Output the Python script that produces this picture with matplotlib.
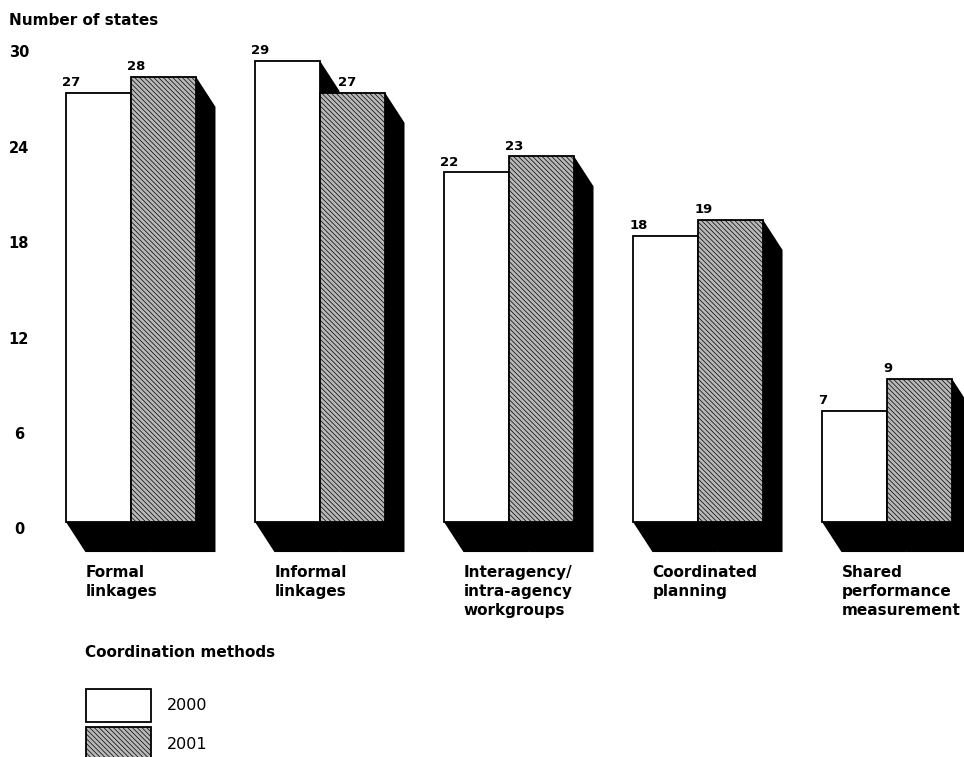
import matplotlib
matplotlib.use("Agg")
import matplotlib.pyplot as plt
import numpy as np
from matplotlib.patches import Rectangle

plt.rcParams['font.family'] = ['DejaVu Sans']
plt.rcParams['hatch.linewidth'] = 0.5
plt.rcParams['hatch.color'] = '#3c3c3c'

# Data
categories = ['Formal\nlinkages', 'Informal\nlinkages',
              'Interagency/\nintra-agency\nworkgroups',
              'Coordinated\nplanning',
              'Shared\nperformance\nmeasurement']
years = ['2000', '2001']
states_2000 = [27, 29, 22, 18, 7]
states_2001 = [28, 27, 23, 19, 9]
yticks = [0, 6, 12, 18, 24, 30]

# Layout (group spacing = 1 in x)
bar_w = 0.344          # width of each front face
dx, dy = 0.103, 1.89   # depth of the black extrusion
gray_face = '#b8b8b8'
stipple = '\\\\\\\\\\\\\\'

fig = plt.figure(figsize=(9.64, 7.57), dpi=100)
ax = fig.add_axes([0, 0, 1, 1])
ax.set_xlim(-0.349, 4.751)
ax.set_ylim(-14.78, 32.83)
ax.axis('off')

x = np.arange(len(categories))
x_2000 = x
x_2001 = x + bar_w


def extrusion(x0, top):
    # black side + bottom faces behind a bar
    x1 = x0 + bar_w
    px = [x0, x0, x1, x1 + dx, x1 + dx, x0 + dx]
    py = [0, top, top, top - dy, -dy, -dy]
    ax.fill(px, py, color='black', lw=0, zorder=1)


for i in range(len(categories)):
    extrusion(x_2000[i], states_2000[i])
    extrusion(x_2001[i], states_2001[i])

ax.bar(x_2000, states_2000, width=bar_w, align='edge', color='white',
       edgecolor='black', linewidth=1.3, zorder=2)
ax.bar(x_2001, states_2001, width=bar_w, align='edge', color=gray_face,
       edgecolor='black', linewidth=1.3, hatch=stipple, zorder=2)

# value labels (2001 label moves past the shadow when 2000 is taller)
for i in range(len(categories)):
    ax.text(x_2000[i] - 0.02, states_2000[i] + 0.42, str(states_2000[i]),
            ha='left', va='baseline', fontsize=9.5, fontweight='bold',
            zorder=3)
    shift = dx - 0.01 if states_2000[i] > states_2001[i] else -0.02
    ax.text(x_2001[i] + shift, states_2001[i] + 0.42, str(states_2001[i]),
            ha='left', va='baseline', fontsize=9.5, fontweight='bold',
            zorder=3)

# category labels under the bars
for xi, lab in zip(x, categories):
    ax.text(xi + dx, -2.7, lab, ha='left', va='top', fontsize=11,
            fontweight='bold', linespacing=1.35)

# y tick labels and axis title
for t in yticks:
    ax.text(-0.249, t - 0.5, str(t), ha='center', va='center',
            fontsize=10.5, fontweight='bold')
ax.text(-0.302, 31.57, 'Number of states', ha='left', va='center',
        fontsize=11, fontweight='bold')

# legend
ax.text(0.1, -8.18, 'Coordination methods', ha='left', va='center',
        fontsize=11, fontweight='bold')
ax.add_patch(Rectangle((0.106, -12.58), 0.344, 2.08, facecolor='white',
                       edgecolor='black', linewidth=1.3))
ax.add_patch(Rectangle((0.106, -14.97), 0.344, 2.08, facecolor=gray_face,
                       edgecolor='black', linewidth=1.3, hatch=stipple))
ax.text(0.534, -11.55, years[0], ha='left', va='center', fontsize=11.5)
ax.text(0.534, -14.0, years[1], ha='left', va='center', fontsize=11.5)

fig.savefig('out.png', dpi=100)
